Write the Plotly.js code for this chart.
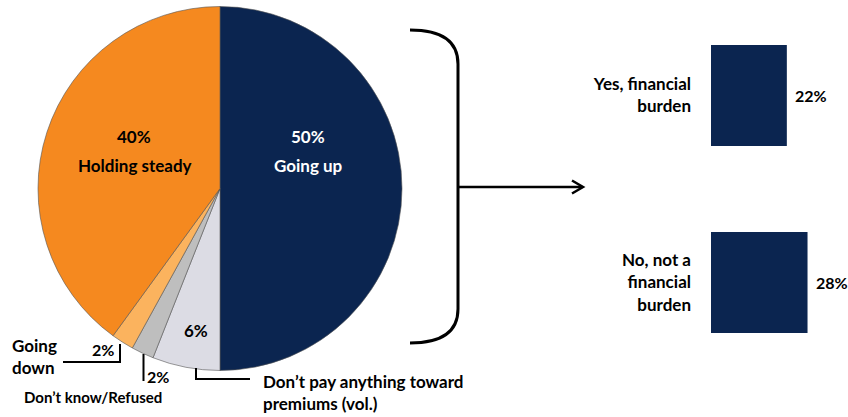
<!DOCTYPE html>
<html>
<head>
<meta charset="utf-8">
<script src="https://cdn.plot.ly/plotly-3.0.1.min.js"></script>
<style>html,body{margin:0;padding:0;background:#fff}#chart{width:848px;height:417px}</style>
</head>
<body>
<div id="chart"></div>
<script>
// ---- data ----
const pieLabels = ["Going up", "Don’t pay anything toward premiums (vol.)", "Don’t know/Refused", "Going down", "Holding steady"];
const pieValues = [50, 6, 2, 2, 40];
const pieColors = ["#0B2550", "#DCDCE4", "#BEBEBE", "#FBB35E", "#F5891F"];

const barCategories = ["Yes, financial<br>burden", "No, not a<br>financial<br>burden"];
const barValues = [22, 28];
const barColor = "#0B2550";

// ---- helpers (pixel -> paper) ----
const W = 848, H = 417;
const px = x => x / W;
const py = y => 1 - y / H;
const FONT = "Lato, 'Open Sans', sans-serif";

const pie = {
  type: "pie",
  labels: pieLabels,
  values: pieValues,
  sort: false,
  direction: "clockwise",
  rotation: 0,
  marker: { colors: pieColors, line: { color: "#555", width: 0.6 } },
  textinfo: "none",
  hoverinfo: "label+percent",
  domain: { x: [px(38), px(402)], y: [py(370.5), py(6.5)] },
  showlegend: false
};

const bar = {
  type: "bar",
  orientation: "h",
  y: barCategories,
  x: barValues,
  marker: { color: barColor },
  xaxis: "x",
  yaxis: "y",
  hoverinfo: "x+y",
  showlegend: false
};

function ann(text, x, y, opts) {
  return Object.assign({
    text: text, x: px(x), y: py(y), xref: "paper", yref: "paper",
    showarrow: false, xanchor: "center", yanchor: "middle",
    font: { family: FONT, size: 17, color: "#000", weight: "bold" }
  }, opts || {});
}

const annotations = [
  // inside pie
  ann(pieValues[0] + "%", 308, 136, { font: { family: FONT, size: 17, color: "#fff", weight: "bold" } }),
  ann(pieLabels[0], 308, 165, { font: { family: FONT, size: 17, color: "#fff", weight: "bold" } }),
  ann(pieValues[4] + "%", 134, 136),
  ann(pieLabels[4], 135, 165),
  ann(pieValues[1] + "%", 196, 330),
  // outside pie labels
  ann(pieValues[3] + "%", 103, 349, { font: { family: FONT, size: 16, color: "#000", weight: "bold" } }),
  ann("Going<br>down", 10, 356, { xanchor: "left", align: "left", font: { family: FONT, size: 17, color: "#000", weight: "bold" } }),
  ann(pieValues[2] + "%", 158, 376, { font: { family: FONT, size: 16, color: "#000", weight: "bold" } }),
  ann(pieLabels[2], 93, 397, { font: { family: FONT, size: 15, color: "#000", weight: "bold" } }),
  ann("Don’t pay anything toward<br>premiums (vol.)", 261, 392, { xanchor: "left", align: "left", font: { family: FONT, size: 17, color: "#000", weight: "bold" } })
];

// bar value labels (data driven)
barCategories.forEach((c, i) => {
  annotations.push({
    text: barValues[i] + "%", x: barValues[i], y: c, xref: "x", yref: "y",
    xanchor: "left", yanchor: "middle", xshift: 6, showarrow: false,
    font: { family: FONT, size: 16, color: "#000", weight: "bold" }
  });
});

function P(x, y) { return px(x).toFixed(5) + "," + py(y).toFixed(5); }

const lineStyle = { color: "#000", width: 2 };
const shapes = [
  // bracket
  { type: "path", xref: "paper", yref: "paper", line: { color: "#000", width: 3 },
    path: "M" + P(410, 30) + " Q" + P(458, 30) + " " + P(458, 64) + " L" + P(458, 309) + " Q" + P(458, 343) + " " + P(410, 343) },
  // arrow shaft
  { type: "line", xref: "paper", yref: "paper", x0: px(458), y0: py(187), x1: px(582), y1: py(187), line: { color: "#000", width: 2.5 } },
  // arrow head
  { type: "path", xref: "paper", yref: "paper", line: { color: "#000", width: 2.5 },
    path: "M" + P(572, 180.5) + " L" + P(583, 187) + " L" + P(572, 193.5) },
  // leader: going down
  { type: "path", xref: "paper", yref: "paper", line: lineStyle,
    path: "M" + P(120, 344) + " L" + P(120, 362) + " L" + P(63, 362) },
  // leader: don't know
  { type: "line", xref: "paper", yref: "paper", x0: px(143.5), y0: py(354), x1: px(143.5), y1: py(381), line: lineStyle },
  // leader: don't pay
  { type: "path", xref: "paper", yref: "paper", line: lineStyle,
    path: "M" + P(196, 368) + " L" + P(196, 379) + " L" + P(250, 379) }
];

const layout = {
  width: W, height: H,
  margin: { l: 0, r: 0, t: 0, b: 0 },
  paper_bgcolor: "#fff", plot_bgcolor: "rgba(0,0,0,0)",
  font: { family: FONT },
  bargap: 0.46,
  xaxis: { domain: [px(711), px(842)], range: [0, 38], visible: false, fixedrange: true },
  yaxis: { domain: [py(376), py(2)], autorange: "reversed", showgrid: false, zeroline: false, showline: false,
    ticks: "", ticklabelstandoff: 19,
    tickfont: { family: FONT, size: 17, color: "#000", weight: "bold" } },
  annotations: annotations,
  shapes: shapes
};

Plotly.newPlot("chart", [pie, bar], layout, { displayModeBar: false, staticPlot: true });
</script>
</body>
</html>
